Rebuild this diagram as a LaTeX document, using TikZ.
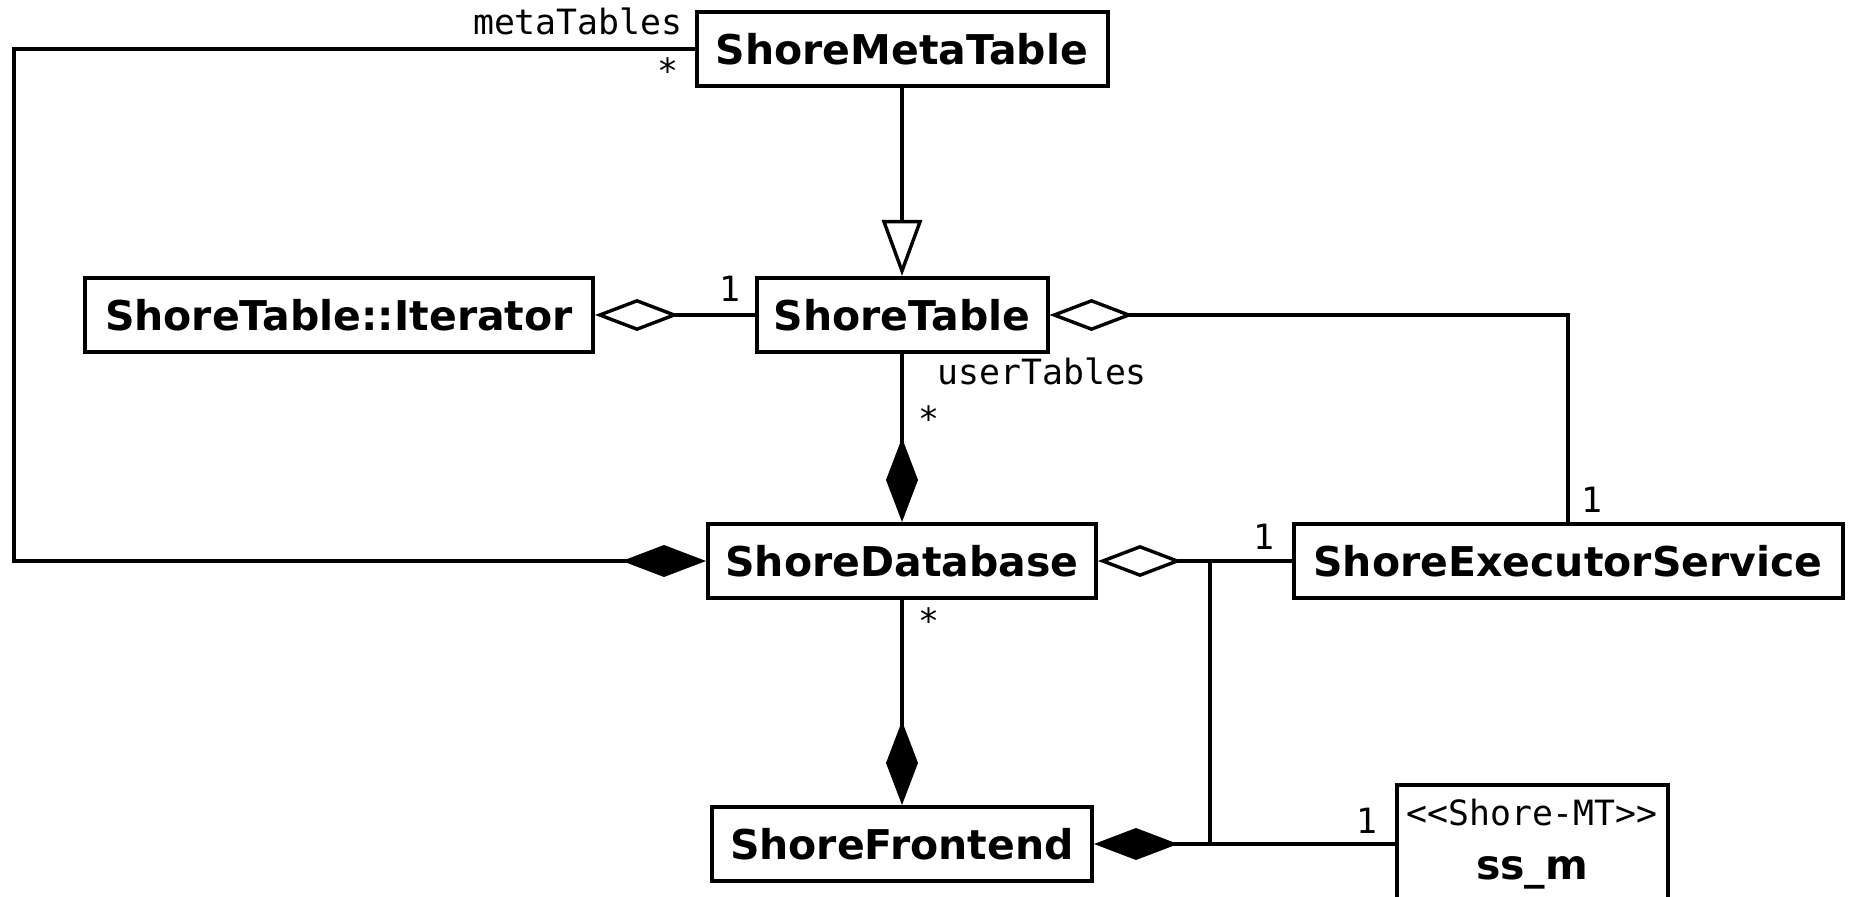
\documentclass[tikz,border=0pt]{standalone}
\usepackage{fontspec}
\usetikzlibrary{arrows.meta}
\newfontfamily\umlsans{DejaVu Sans}
\newfontfamily\umlmono{DejaVu Sans Mono}
\tikzset{
	umlclass/.style={draw, line width=2pt, inner sep=0pt, minimum height=37pt,
		font=\umlsans\bfseries\fontsize{20.5}{24}\selectfont},
	role/.style={inner sep=0pt, font=\umlmono\fontsize{17.4}{20}\selectfont},
	assoc/.style={line width=1.7pt},
	aggregate/.style={assoc, -{Diamond[open, length=42pt, width=16pt]}},
	composite/.style={assoc, -{Diamond[length=42pt, width=16pt]}},
	inherit/.style={assoc, -{Triangle[open, length=28pt, width=20pt]}},
}
\begin{document}
\begin{tikzpicture}[x=0.5pt, y=-0.5pt]
\clip (0,0) rectangle (1852,897);
% classes
\node[umlclass, minimum width=205.5pt] (meta) at (902,49) {ShoreMetaTable};
\node[umlclass, minimum width=254pt] (iter) at (339,315) {ShoreTable::Iterator};
\node[umlclass, minimum width=145.5pt] (table) at (902,315) {ShoreTable};
\node[umlclass, minimum width=194pt] (db) at (902,561) {ShoreDatabase};
\node[umlclass, minimum width=274.5pt] (exec) at (1568,561) {ShoreExecutorService};
\node[umlclass, minimum width=190pt] (front) at (902,844) {ShoreFrontend};
\node[umlclass, minimum width=135.5pt, minimum height=59pt, align=center,
	font=\umlmono\fontsize{17.4}{27}\selectfont] (ssm) at (1532,844)
	{<\kern0pt<Shore-MT>\kern0pt>\\{\umlsans\bfseries\fontsize{20.5}{27}\selectfont ss\_m}};
% connectors
\coordinate (lbend) at (14,300);
\coordinate (jtop) at (1210,561);
\coordinate (jbot) at (1210,844);
\draw[composite] (meta.west) -| (lbend) |- (db.west);
\draw[inherit] (meta) -- (table);
\draw[aggregate] (table) -- (iter);
\draw[aggregate] (exec.north) |- (table.east);
\draw[composite] (table) -- (db);
\draw[aggregate] (exec) -- (db);
\draw[composite] (db) -- (front);
\draw[composite] (ssm) -- (front);
\draw[assoc] (jtop) -- (jbot);
% roles and multiplicities
\node[role, anchor=base east] (metarole) at (683,35) {metaTables};
\node[role, anchor=north east] (metamult) at (679,57) {*};
\node[role, anchor=base east] (itermult) at (741,302) {1};
\node[role, anchor=base west] (userrole) at (937,385) {userTables};
\node[role, anchor=north west] (usermult) at (918,405) {*};
\node[role, anchor=base west] (execmult) at (1581,513) {1};
\node[role, anchor=base east] (dbmult) at (1275,550) {1};
\node[role, anchor=north west] (frontmult) at (918,607) {*};
\node[role, anchor=base east] (ssmmult) at (1378,833) {1};
\end{tikzpicture}
\end{document}
